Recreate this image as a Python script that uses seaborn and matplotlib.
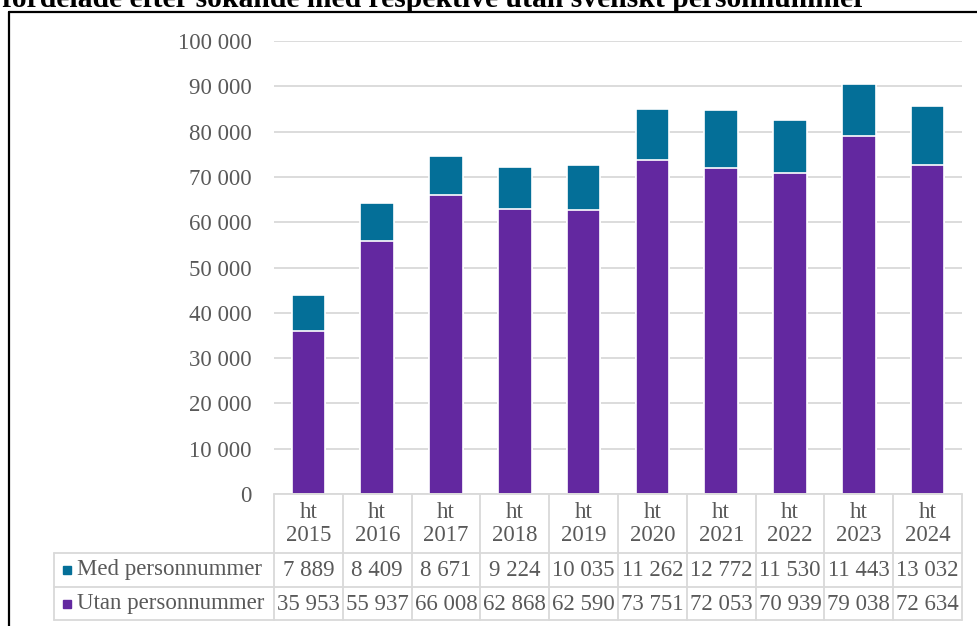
import pandas as pd
import matplotlib
matplotlib.use('Agg')
import matplotlib.pyplot as plt
import matplotlib.transforms as mtransforms
from matplotlib.lines import Line2D
from matplotlib.ticker import FuncFormatter
import seaborn as sns

# Data
years = ['2015', '2016', '2017', '2018', '2019', '2020', '2021', '2022', '2023', '2024']
med = [7889, 8409, 8671, 9224, 10035, 11262, 12772, 11530, 11443, 13032]
utan = [35953, 55937, 66008, 62868, 62590, 73751, 72053, 70939, 79038, 72634]
series_names = ['Med personnummer', 'Utan personnummer']
title = 'fördelade efter sökande med respektive utan svenskt personnummer'

teal = '#046F98'
purple = '#6328A0'
grid_col = '#D9D9D9'
text_col = '#595959'
fs = 16.5

W, H = 978, 626


def fx(x):
    return x / W


def fy(y):
    return 1 - y / H


def thousands(v, pos=None):
    return f'{v:,.0f}'.replace(',', ' ')


sns.set_theme(style='white')
plt.rcParams['font.family'] = ['Liberation Serif', 'DejaVu Serif']

fig = plt.figure(figsize=(W / 100, H / 100), dpi=100)
ax = fig.add_axes([fx(274), fy(494), (962 - 274) / W, (494 - 41) / H])

df = pd.DataFrame({'period': ['ht ' + y for y in years], 'med': med, 'utan': utan})
df['total'] = df['med'] + df['utan']

# stacked bars: total in teal, the lower part (utan) drawn on top in purple
sns.barplot(data=df, x='period', y='total', color=teal, saturation=1, width=0.49,
            edgecolor='white', linewidth=1.2, errorbar=None, ax=ax, zorder=2)
sns.barplot(data=df, x='period', y='utan', color=purple, saturation=1, width=0.49,
            edgecolor='white', linewidth=1.2, errorbar=None, ax=ax, zorder=3)

ax.set_xlim(-0.5, len(years) - 0.5)
ax.set_ylim(0, 100000)
ax.set_yticks(range(0, 100001, 10000))
ax.yaxis.set_major_formatter(FuncFormatter(thousands))
ax.grid(axis='y', color=grid_col, linewidth=1.3, zorder=0)
ax.set_axisbelow(True)
ax.set_xlabel('')
ax.set_ylabel('')
ax.tick_params(axis='x', labelbottom=False, length=0)
ax.tick_params(axis='y', length=0, pad=16, labelsize=fs, labelcolor=text_col)
sns.despine(ax=ax, left=True, bottom=True, top=True, right=True)

# data table below the chart
trans = mtransforms.blended_transform_factory(ax.transData, fig.transFigure)
line_kw = dict(color=grid_col, linewidth=1.3)
n = len(years)
rows_y = [494, 553, 587, 620]

for i in range(n + 1):
    fig.add_artist(Line2D([i - 0.5, i - 0.5], [fy(494), fy(620)], transform=trans, **line_kw))
fig.add_artist(Line2D([fx(54), fx(54)], [fy(553), fy(620)], **line_kw))
fig.add_artist(Line2D([fx(274), fx(962)], [fy(494), fy(494)], **line_kw))
for y in rows_y[1:]:
    fig.add_artist(Line2D([fx(54), fx(962)], [fy(y), fy(y)], **line_kw))

for i, yr in enumerate(years):
    fig.text(i, fy(524), 'ht\n' + yr, transform=trans, ha='center', va='center',
             fontsize=fs, color=text_col, linespacing=1.15)
    fig.text(i, fy(570), thousands(med[i]), transform=trans, ha='center', va='center',
             fontsize=fs, color=text_col)
    fig.text(i, fy(604), thousands(utan[i]), transform=trans, ha='center', va='center',
             fontsize=fs, color=text_col)

for name, col, y in zip(series_names, [teal, purple], [570, 604]):
    fig.add_artist(Line2D([fx(67)], [fy(y)], marker='s', markersize=6, color=col, linestyle='none'))
    fig.text(fx(77), fy(y), name, ha='left', va='center', fontsize=fs, color=text_col)

# title (mostly cut off at the top of the picture)
fig.text(fx(2), fy(7), title, ha='left', va='baseline', fontsize=21.3, fontweight='bold',
         color='black')

# black frame
fig.add_artist(Line2D([fx(9), fx(9)], [fy(12), 0], color='black', linewidth=1.6))
fig.add_artist(Line2D([fx(9), 1], [fy(12), fy(12)], color='black', linewidth=1.6))

fig.savefig('out.png', dpi=100)
